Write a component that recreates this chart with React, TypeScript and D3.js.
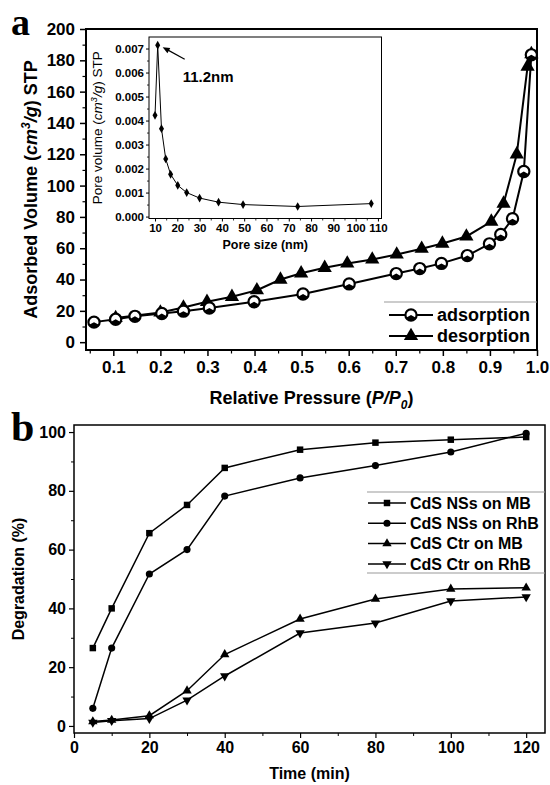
import * as d3 from 'd3';
import { useEffect, useRef } from 'react';

// panel a: N2 isotherm
const adsP = [0.059, 0.105, 0.146, 0.203, 0.249, 0.304, 0.399, 0.503, 0.601, 0.701, 0.751, 0.797, 0.852, 0.899, 0.923, 0.948, 0.972, 0.988];
const adsV = [12.8, 14.6, 16.5, 18.3, 19.8, 21.8, 25.8, 30.8, 37.2, 43.8, 47, 50.3, 55.3, 62.8, 68.8, 78.8, 109, 183.5];
const desP = [0.988, 0.98, 0.957, 0.929, 0.903, 0.85, 0.799, 0.755, 0.702, 0.65, 0.597, 0.549, 0.499, 0.455, 0.405, 0.352, 0.299, 0.249, 0.2, 0.105];
const desV = [184, 176, 120, 88.5, 77, 67.5, 63, 59.7, 56, 52.8, 50.3, 47.5, 44, 40, 33.2, 29, 25.8, 22.2, 19, 15.5];

// inset: pore size distribution
const poreSize = [10, 11.2, 12.9, 14.8, 17, 20.2, 24.2, 30, 38.5, 49.5, 74, 107];
const poreVol = [0.00422, 0.00714, 0.00366, 0.0024, 0.00176, 0.0013, 0.001, 0.00077, 0.0006, 0.0005, 0.00042, 0.00054];

// panel b: degradation
const timeMin = [5, 10, 20, 30, 40, 60, 80, 100, 120];
const nsMB = [26.5, 40, 65.6, 75.2, 87.8, 94, 96.4, 97.4, 98.3];
const nsRhB = [6, 26.5, 51.7, 60, 78.2, 84.4, 88.6, 93.2, 99.6];
const ctrMB = [1.5, 2, 3.5, 12, 24.3, 36.4, 43.2, 46.6, 47];
const ctrRhB = [1.2, 1.8, 2.5, 8.8, 17, 31.6, 35, 42.5, 43.9];

const legendB = ['CdS NSs on MB', 'CdS NSs on RhB', 'CdS Ctr on MB', 'CdS Ctr on RhB'];

const FONT = '"Liberation Sans", Arial, sans-serif';

const App = () => {
  const ref = useRef(null);

  useEffect(() => {
    const svg = d3.select(ref.current);
    svg.selectAll('*').remove();
    svg.attr('font-family', FONT);

    const axisStyle = (g, fs, sw) => {
      g.selectAll('.domain').remove();
      g.selectAll('line').attr('stroke', '#000').attr('stroke-width', sw);
      g.selectAll('text').attr('font-size', fs).attr('font-weight', 'bold').attr('font-family', FONT).attr('fill', '#000');
    };

    // ---------- panel a ----------
    const a = { left: 86, right: 537, top: 29, bottom: 350 };
    const xA = d3.scaleLinear().domain([0.042, 1.0]).range([a.left, a.right]);
    const yA = d3.scaleLinear().domain([-5, 200]).range([a.bottom, a.top]);

    const gxA = svg.append('g').attr('transform', `translate(0,${a.bottom})`)
      .call(d3.axisBottom(xA).tickValues(d3.range(0.1, 1.01, 0.1)).tickFormat(d3.format('.1f')).tickSize(6).tickPadding(5));
    axisStyle(gxA, 17, 1.5);
    const gxAm = svg.append('g').attr('transform', `translate(0,${a.bottom})`)
      .call(d3.axisBottom(xA).tickValues(d3.range(0.05, 1.0, 0.1)).tickFormat(() => '').tickSize(3.5));
    axisStyle(gxAm, 17, 1.2);

    const gyA = svg.append('g').attr('transform', `translate(${a.left},0)`)
      .call(d3.axisLeft(yA).tickValues(d3.range(0, 201, 20)).tickSize(6).tickPadding(5));
    axisStyle(gyA, 17, 1.5);
    const gyAm = svg.append('g').attr('transform', `translate(${a.left},0)`)
      .call(d3.axisLeft(yA).tickValues(d3.range(10, 200, 20)).tickFormat(() => '').tickSize(3.5));
    axisStyle(gyAm, 17, 1.2);

    svg.append('rect').attr('x', a.left).attr('y', a.top)
      .attr('width', a.right - a.left).attr('height', a.bottom - a.top)
      .attr('fill', 'none').attr('stroke', '#000').attr('stroke-width', 2);

    const lineA = (xs, ys) => d3.line().x((d) => xA(xs[d])).y((d) => yA(ys[d]))(d3.range(xs.length));
    svg.append('path').attr('d', lineA(adsP, adsV)).attr('fill', 'none').attr('stroke', '#000').attr('stroke-width', 2);
    svg.append('path').attr('d', lineA(desP, desV)).attr('fill', 'none').attr('stroke', '#000').attr('stroke-width', 2);

    const triA = d3.symbol(d3.symbolTriangle, 88)();
    const halfCircle = (g, cx, cy) => {
      g.append('circle').attr('cx', cx).attr('cy', cy).attr('r', 5.6)
        .attr('fill', '#fff').attr('stroke', '#000').attr('stroke-width', 2.2);
      g.append('path')
        .attr('d', d3.arc()({ innerRadius: 0, outerRadius: 5.6, startAngle: Math.PI / 2 + 0.5, endAngle: Math.PI * 1.5 - 0.5 }))
        .attr('transform', `translate(${cx},${cy})`).attr('fill', '#000');
    };
    desP.forEach((p, i) => {
      svg.append('path').attr('d', triA).attr('transform', `translate(${xA(p)},${yA(desV[i])})`).attr('fill', '#000');
    });
    adsP.forEach((p, i) => halfCircle(svg, xA(p), yA(adsV[i])));

    // legend a
    svg.append('line').attr('x1', 384).attr('x2', a.right).attr('y1', 302).attr('y2', 302)
      .attr('stroke', '#999').attr('stroke-width', 1);
    [['adsorption', 315], ['desorption', 336]].forEach(([label, ly], i) => {
      svg.append('line').attr('x1', 389).attr('x2', 433).attr('y1', ly).attr('y2', ly)
        .attr('stroke', '#000').attr('stroke-width', 2);
      if (i === 0) halfCircle(svg, 411, ly);
      else svg.append('path').attr('d', triA).attr('transform', `translate(411,${ly})`).attr('fill', '#000');
      svg.append('text').attr('x', 437).attr('y', ly).attr('dy', '0.35em')
        .attr('font-size', 18).attr('font-weight', 'bold').text(label);
    });

    // titles a
    const ty = svg.append('text').attr('transform', `translate(37,${(a.top + a.bottom) / 2}) rotate(-90)`)
      .attr('text-anchor', 'middle').attr('font-size', 18).attr('font-weight', 'bold');
    ty.append('tspan').text('Adsorbed Volume (');
    ty.append('tspan').attr('font-style', 'italic').text('cm');
    ty.append('tspan').attr('font-style', 'italic').attr('font-size', 12).attr('dy', -7).text('3');
    ty.append('tspan').attr('font-style', 'italic').attr('dy', 7).text('/g');
    ty.append('tspan').text(') STP');

    const tx = svg.append('text').attr('x', (a.left + a.right) / 2).attr('y', 404)
      .attr('text-anchor', 'middle').attr('font-size', 18).attr('font-weight', 'bold');
    tx.append('tspan').text('Relative Pressure (');
    tx.append('tspan').attr('font-style', 'italic').text('P/P');
    tx.append('tspan').attr('font-style', 'italic').attr('font-size', 12).attr('dy', 5).text('0');
    tx.append('tspan').attr('dy', -5).text(')');

    svg.append('text').attr('x', 11).attr('y', 35).attr('font-family', '"Liberation Serif", "DejaVu Serif", serif')
      .attr('font-size', 38).attr('font-weight', 'bold').text('a');

    // ---------- inset ----------
    const n = { left: 149, right: 381.5, top: 37, bottom: 218.5 };
    const xN = d3.scaleLinear().domain([7.3, 111.6]).range([n.left, n.right]);
    const yN = d3.scaleLinear().domain([-0.00008, 0.00748]).range([n.bottom, n.top]);

    svg.append('rect').attr('x', n.left).attr('y', n.top)
      .attr('width', n.right - n.left).attr('height', n.bottom - n.top)
      .attr('fill', '#fff').attr('stroke', '#000').attr('stroke-width', 1);

    const gxN = svg.append('g').attr('transform', `translate(0,${n.bottom})`)
      .call(d3.axisBottom(xN).tickValues(d3.range(10, 111, 10)).tickSize(3).tickPadding(2));
    axisStyle(gxN, 11.5, 1);
    const gxNm = svg.append('g').attr('transform', `translate(0,${n.bottom})`)
      .call(d3.axisBottom(xN).tickValues(d3.range(15, 111, 10)).tickFormat(() => '').tickSize(2));
    axisStyle(gxNm, 11, 0.8);
    const gyN = svg.append('g').attr('transform', `translate(${n.left},0)`)
      .call(d3.axisLeft(yN).tickValues(d3.range(0, 0.00701, 0.001)).tickFormat(d3.format('.3f')).tickSize(3).tickPadding(2));
    axisStyle(gyN, 11.5, 1);
    const gyNm = svg.append('g').attr('transform', `translate(${n.left},0)`)
      .call(d3.axisLeft(yN).tickValues(d3.range(0.0005, 0.0072, 0.001)).tickFormat(() => '').tickSize(2));
    axisStyle(gyNm, 11, 0.8);

    svg.append('path')
      .attr('d', d3.line().x((d) => xN(poreSize[d])).y((d) => yN(poreVol[d]))(d3.range(poreSize.length)))
      .attr('fill', 'none').attr('stroke', '#000').attr('stroke-width', 1);
    const dia = d3.symbol(d3.symbolDiamond, 22)();
    poreSize.forEach((s, i) => {
      svg.append('path').attr('d', dia).attr('transform', `translate(${xN(s)},${yN(poreVol[i])})`).attr('fill', '#000');
    });

    // peak annotation
    const px = xN(poreSize[1]);
    const py = yN(poreVol[1]);
    const ax0 = px + 27;
    const ay0 = py + 14;
    const ax1 = px + 5;
    const ay1 = py + 2;
    svg.append('line').attr('x1', ax0).attr('y1', ay0).attr('x2', ax1 + 4).attr('y2', ay1 + 2.2)
      .attr('stroke', '#000').attr('stroke-width', 1.2);
    const ang = Math.atan2(ay0 - ay1, ax0 - ax1);
    const hl = 7;
    const hw = 3;
    svg.append('path').attr('fill', '#000').attr('d',
      `M${ax1},${ay1}L${ax1 + hl * Math.cos(ang) - hw * Math.sin(ang)},${ay1 + hl * Math.sin(ang) + hw * Math.cos(ang)}` +
      `L${ax1 + hl * Math.cos(ang) + hw * Math.sin(ang)},${ay1 + hl * Math.sin(ang) - hw * Math.cos(ang)}Z`);
    svg.append('text').attr('x', px + 25).attr('y', py + 37).attr('font-size', 15).attr('font-weight', 'bold').text('11.2nm');

    const tyN = svg.append('text').attr('transform', `translate(102,${(n.top + n.bottom) / 2}) rotate(-90)`)
      .attr('text-anchor', 'middle').attr('font-size', 13.5);
    tyN.append('tspan').text('Pore volume (');
    tyN.append('tspan').attr('font-style', 'italic').text('cm');
    tyN.append('tspan').attr('font-style', 'italic').attr('font-size', 9).attr('dy', -5).text('3');
    tyN.append('tspan').attr('font-style', 'italic').attr('dy', 5).text('/g');
    tyN.append('tspan').text(') STP');
    svg.append('text').attr('x', (n.left + n.right) / 2).attr('y', 249).attr('text-anchor', 'middle')
      .attr('font-size', 12.5).attr('font-weight', 'bold').text('Pore size (nm)');

    // ---------- panel b ----------
    const b = { left: 74, right: 545, top: 425, bottom: 733 };
    const xB = d3.scaleLinear().domain([0, 125]).range([b.left, b.right]);
    const yB = d3.scaleLinear().domain([-2.4, 102.4]).range([b.bottom, b.top]);

    const gxB = svg.append('g').attr('transform', `translate(0,${b.bottom})`)
      .call(d3.axisBottom(xB).tickValues(d3.range(0, 121, 20)).tickSize(5).tickPadding(4));
    axisStyle(gxB, 16, 1.2);
    const gxBm = svg.append('g').attr('transform', `translate(0,${b.bottom})`)
      .call(d3.axisBottom(xB).tickValues(d3.range(10, 121, 20)).tickFormat(() => '').tickSize(3));
    axisStyle(gxBm, 16, 1);
    const gyB = svg.append('g').attr('transform', `translate(${b.left},0)`)
      .call(d3.axisLeft(yB).tickValues(d3.range(0, 101, 20)).tickSize(5).tickPadding(3));
    axisStyle(gyB, 16, 1.2);
    const gyBm = svg.append('g').attr('transform', `translate(${b.left},0)`)
      .call(d3.axisLeft(yB).tickValues(d3.range(10, 100, 20)).tickFormat(() => '').tickSize(3));
    axisStyle(gyBm, 16, 1);

    svg.append('rect').attr('x', b.left).attr('y', b.top)
      .attr('width', b.right - b.left).attr('height', b.bottom - b.top)
      .attr('fill', 'none').attr('stroke', '#000').attr('stroke-width', 1.5);

    const sq = d3.symbol(d3.symbolSquare, 42)();
    const ci = d3.symbol(d3.symbolCircle, 40)();
    const tri = d3.symbol(d3.symbolTriangle, 38)();
    const seriesB = [
      { ys: nsMB, sym: sq, rot: 0 },
      { ys: nsRhB, sym: ci, rot: 0 },
      { ys: ctrMB, sym: tri, rot: 0 },
      { ys: ctrRhB, sym: tri, rot: 180 },
    ];
    seriesB.forEach((s) => {
      svg.append('path')
        .attr('d', d3.line().x((d) => xB(timeMin[d])).y((d) => yB(s.ys[d]))(d3.range(timeMin.length)))
        .attr('fill', 'none').attr('stroke', '#000').attr('stroke-width', 1.5);
      timeMin.forEach((t, i) => {
        svg.append('path').attr('d', s.sym)
          .attr('transform', `translate(${xB(t)},${yB(s.ys[i])}) rotate(${s.rot})`).attr('fill', '#000');
      });
    });

    // legend b
    svg.append('line').attr('x1', 367).attr('x2', b.right).attr('y1', 492).attr('y2', 492).attr('stroke', '#999');
    svg.append('line').attr('x1', 367).attr('x2', b.right).attr('y1', 573).attr('y2', 573).attr('stroke', '#999');
    legendB.forEach((label, i) => {
      const ly = 503 + i * 20.3;
      svg.append('line').attr('x1', 368).attr('x2', 406).attr('y1', ly).attr('y2', ly)
        .attr('stroke', '#000').attr('stroke-width', 1.5);
      svg.append('path').attr('d', seriesB[i].sym)
        .attr('transform', `translate(387,${ly}) rotate(${seriesB[i].rot})`).attr('fill', '#000');
      svg.append('text').attr('x', 410).attr('y', ly).attr('dy', '0.36em')
        .attr('font-size', 16).attr('font-weight', 'bold').text(label);
    });

    svg.append('text').attr('transform', `translate(24,${(b.top + b.bottom) / 2}) rotate(-90)`)
      .attr('text-anchor', 'middle').attr('font-size', 16).attr('font-weight', 'bold').text('Degradation (%)');
    svg.append('text').attr('x', (b.left + b.right) / 2).attr('y', 779).attr('text-anchor', 'middle')
      .attr('font-size', 16).attr('font-weight', 'bold').text('Time (min)');

    svg.append('text').attr('x', 11).attr('y', 441).attr('font-family', '"Liberation Serif", "DejaVu Serif", serif')
      .attr('font-size', 42).attr('font-weight', 'bold').text('b');
  }, []);

  return (
    <svg ref={ref} width={550} height={785}
      style={{ position: 'absolute', left: 0, top: 0, background: '#fff' }} />
  );
};

export default App;
